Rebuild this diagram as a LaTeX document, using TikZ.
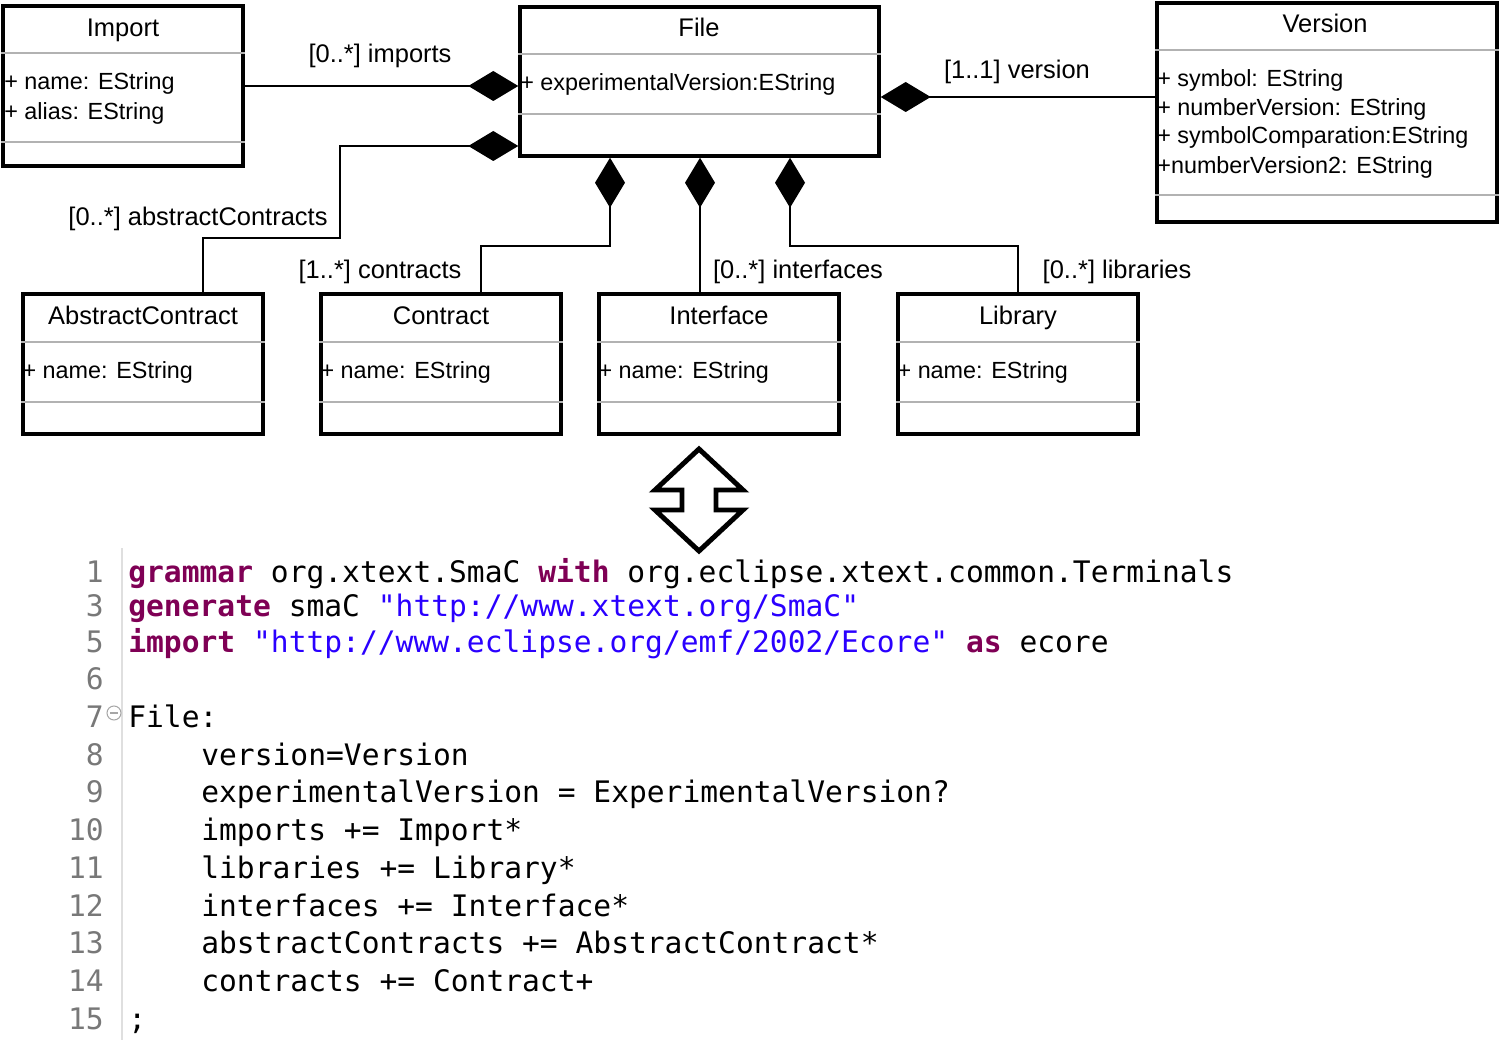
\documentclass[tikz,border=0pt]{standalone}
\usepackage{fontspec}
\setsansfont{Liberation Sans}
\setmonofont{DejaVu Sans Mono}
\usetikzlibrary{arrows.meta,positioning}
\definecolor{kwcol}{HTML}{7F0055}
\definecolor{strcol}{HTML}{2A00FF}
\definecolor{numcol}{HTML}{787878}
\newcommand{\kw}[1]{\textcolor{kwcol}{\bfseries #1}}
\newcommand{\str}[1]{\textcolor{strcol}{#1}}
\begin{document}
\begin{tikzpicture}[x=0.02cm, y=-0.02cm,
  cls/.style={draw, line width=2pt, inner sep=0, minimum width=4.8cm, minimum height=2.8cm},
  clsname/.style={font=\sffamily\fontsize{14.5}{16}\selectfont, text height=10.4pt, text depth=0pt, inner sep=0},
  attr/.style={font=\sffamily\fontsize{13.3}{16}\selectfont, anchor=west, text height=9.5pt, text depth=0pt, inner sep=0},
  sep/.style={draw=gray!60, line width=0.8pt},
  lbl/.style={font=\sffamily\fontsize{14.5}{16}\selectfont, text height=10.4pt, text depth=0pt, inner sep=0},
  comp/.style={{Diamond[length=1cm, width=0.6cm]}-, line width=1.1pt},
  codeline/.style={font=\ttfamily\fontsize{16.85}{20}\selectfont, anchor=base west, inner sep=0},
  lineno/.style={font=\ttfamily\fontsize{16.85}{20}\selectfont, text=numcol, anchor=base east, inner sep=0}]
\useasboundingbox (0,0) rectangle (1500,1040);
% classes of the metamodel
\node[cls, minimum height=3.2cm] (import) at (123,86) {};
\node[cls, minimum width=7.18cm, minimum height=2.98cm] (file) at (699.5,81.5) {};
\node[cls, minimum width=6.8cm, minimum height=4.38cm] (version) at (1327,112.5) {};
\draw[sep] (import.west |- 0,53) -- (import.east |- 0,53);
\draw[sep] (import.west |- 0,142) -- (import.east |- 0,142);
\draw[sep] (file.west |- 0,54) -- (file.east |- 0,54);
\draw[sep] (file.west |- 0,114) -- (file.east |- 0,114);
\draw[sep] (version.west |- 0,50) -- (version.east |- 0,50);
\draw[sep] (version.west |- 0,195) -- (version.east |- 0,195);
\node[clsname] (importname) at (123,27) {Import};
\node[clsname] (filename) at (699,27) {File};
\node[clsname] (versionname) at (1325,23) {Version};
\node[attr] (ia1) at (4,81) {+ name: EString};
\node[attr] (ia2) at (4,111) {+ alias: EString};
\node[attr] (fa1) at (520,82) {+ experimentalVersion:EString};
\node[attr] (va1) at (1157,78) {+ symbol: EString};
\node[attr] (va2) at (1157,107) {+ numberVersion: EString};
\node[attr] (va3) at (1157,135) {+ symbolComparation:EString};
\node[attr] (va4) at (1157,165) {+numberVersion2: EString};
\foreach \n/\x/\t in {abs/143/AbstractContract, con/441/Contract, int/719/Interface, lib/1018/Library} {
  \node[cls] (\n) at (\x,364) {};
  \draw[sep] (\n.west |- 0,342) -- (\n.east |- 0,342);
  \draw[sep] (\n.west |- 0,402) -- (\n.east |- 0,402);
  \node[clsname] (\n name) at (\x,315) {\t};
  \node[attr] (\n attr) at ([xshift=0.02cm]\n.west |- 0,370) {+ name: EString};
}
% compositions
\draw[comp] (file.west |- import.east) -- (import.east);
\draw[comp] (file.west |- 0,146) -- ++(-178,0) -- ++(0,92) -| ([xshift=1.2cm]abs.north);
\draw[comp] (file.south -| 610,0) -- ++(0,88) -| ([xshift=0.8cm]con.north);
\draw[comp] (file.south -| 700,0) -- ([xshift=-0.38cm]int.north);
\draw[comp] (file.south -| 790,0) -- ++(0,88) -| (lib.north);
\draw[comp] (file.east |- 0,97) -- (version.west |- 0,97);
\node[lbl] (limports) at (380,53) {[0..*] imports};
\node[lbl] (lversion) at (1017,69) {[1..1] version};
\node[lbl] (labs) at (198,216) {[0..*] abstractContracts};
\node[lbl] (lcon) at (380,269) {[1..*] contracts};
\node[lbl] (lint) at (798,269) {[0..*] interfaces};
\node[lbl] (llib) at (1117,269) {[0..*] libraries};
% two-way arrow
\draw[line width=2.8pt, line join=miter] (699,449) -- (743,490) -- (716,490) -- (716,510) -- (743,510) -- (699,551) -- (655,510) -- (682,510) -- (682,490) -- (655,490) -- cycle;
% grammar listing
\draw[gray!25, line width=0.8pt] (122,548) -- (122,1040);
\foreach \n/\y in {1/572, 3/606, 5/642, 6/679, 7/717, 8/755, 9/792, 10/830, 11/868, 12/906, 13/943, 14/981, 15/1019}
  \node[lineno] (n\n) at (104,\y+10) {\n};
\node[circle, draw=gray!70, line width=0.6pt, inner sep=0, minimum size=0.28cm] (fold) at (114,713) {};
\draw[gray!70, line width=0.6pt] ([xshift=-0.08cm]fold.center) -- ([xshift=0.08cm]fold.center);
\node[codeline] (c1) at (128,582) {\kw{grammar} org.xtext.SmaC \kw{with} org.eclipse.xtext.common.Terminals};
\node[codeline] (c3) at (128,616) {\kw{generate} smaC \str{"http://www.xtext.org/SmaC"}};
\node[codeline] (c5) at (128,652) {\kw{import} \str{"http://www.eclipse.org/emf/2002/Ecore"} \kw{as} ecore};
\node[codeline] (c7) at (128,727) {File:};
\node[codeline] (c8) at (201,765) {version=Version};
\node[codeline] (c9) at (201,802) {experimentalVersion = ExperimentalVersion?};
\node[codeline] (c10) at (201,840) {imports += Import*};
\node[codeline] (c11) at (201,878) {libraries += Library*};
\node[codeline] (c12) at (201,916) {interfaces += Interface*};
\node[codeline] (c13) at (201,953) {abstractContracts += AbstractContract*};
\node[codeline] (c14) at (201,991) {contracts += Contract+};
\node[codeline] (c15) at (128,1029) {;};
\end{tikzpicture}
\end{document}
